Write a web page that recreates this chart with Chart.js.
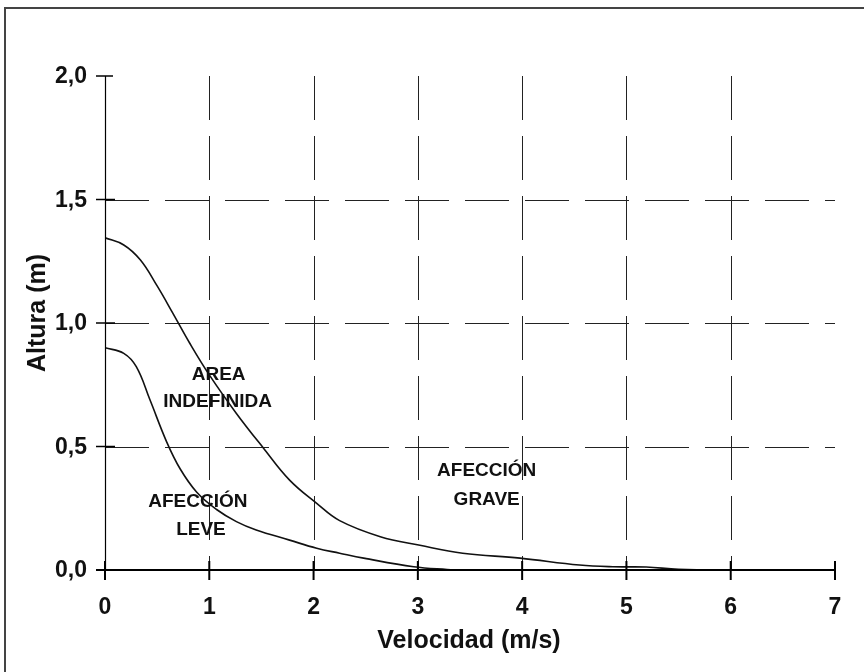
<!DOCTYPE html>
<html>
<head>
<meta charset="utf-8">
<script src="https://cdn.jsdelivr.net/npm/chart.js@4/dist/chart.umd.min.js"></script>
<style>
  body { margin: 0; background: #fff; }
  canvas { display: block; }
</style>
</head>
<body>
<canvas id="myChart" width="864" height="672"></canvas>
<script>
// curve separating "afección leve" from "área indefinida"
const leveX = [0, 0.18, 0.3, 0.43, 0.59, 0.72, 0.88, 1.07, 1.26, 1.45, 1.77, 2.03, 2.25, 2.48, 2.96, 3.28, 3.4];
const leveY = [0.9, 0.877, 0.823, 0.69, 0.52, 0.41, 0.315, 0.245, 0.196, 0.162, 0.121, 0.088, 0.068, 0.048, 0.013, 0.002, 0];

// curve separating "área indefinida" from "afección grave"
const graveX = [0, 0.18, 0.34, 0.5, 0.65, 0.81, 1.0, 1.26, 1.52, 1.77, 2.03, 2.25, 2.64, 3.02, 3.43, 3.98, 4.55, 4.87, 5.19, 5.5, 6.1];
const graveY = [1.345, 1.316, 1.255, 1.15, 1.04, 0.92, 0.79, 0.634, 0.493, 0.364, 0.27, 0.2, 0.135, 0.10, 0.068, 0.048, 0.02, 0.013, 0.012, 0.003, 0];

const xTicks = [0, 1, 2, 3, 4, 5, 6, 7];
const yTicks = [0, 0.5, 1.0, 1.5, 2.0];
const yTickLabels = ["0,0", "0,5", "1,0", "1,5", "2,0"];

const xTitle = "Velocidad (m/s)";
const yTitle = "Altura (m)";
const regionLabels = [["AREA", "INDEFINIDA"], ["AFECCIÓN", "LEVE"], ["AFECCIÓN", "GRAVE"]];

function toPoints(xs, ys) {
	let pts = [];
	for (let i = 0; i < xs.length; i++) {
		pts.push({x: xs[i], y: ys[i]});
	}
	return pts;
}

const FONT = '"Liberation Sans", Arial, sans-serif';

const drawAxes = {
	id: "drawAxes",
	beforeDatasetsDraw(chart) {
		const c = chart.ctx;
		const xs = chart.scales.x;
		const ys = chart.scales.y;
		const top = ys.getPixelForValue(2.0);
		const bottom = ys.getPixelForValue(0);
		const left = xs.getPixelForValue(0);
		const right = xs.getPixelForValue(7);
		c.save();
		c.strokeStyle = "#222";
		c.lineWidth = 1;
		c.setLineDash([44, 16]);
		// vertical dashed grid
		for (let v of xTicks) {
			if (v === 0 || v === 7) continue;
			let px = Math.round(xs.getPixelForValue(v)) + 0.5;
			c.beginPath();
			c.moveTo(px, top);
			c.lineTo(px, bottom);
			c.stroke();
		}
		// horizontal dashed grid
		for (let v of yTicks) {
			if (v === 0 || v === 2.0) continue;
			let py = Math.round(ys.getPixelForValue(v)) + 0.5;
			c.beginPath();
			c.moveTo(left, py);
			c.lineTo(right, py);
			c.stroke();
		}
		c.restore();
	},
	afterDatasetsDraw(chart) {
		const c = chart.ctx;
		const xs = chart.scales.x;
		const ys = chart.scales.y;
		const top = ys.getPixelForValue(2.0);
		const bottom = ys.getPixelForValue(0);
		const left = xs.getPixelForValue(0);
		const right = xs.getPixelForValue(7);
		c.save();
		c.setLineDash([]);
		c.strokeStyle = "#000";

		// y axis
		c.lineWidth = 1.2;
		c.beginPath();
		c.moveTo(left + 0.5, top);
		c.lineTo(left + 0.5, bottom);
		c.stroke();
		// y ticks
		c.lineWidth = 1.5;
		for (let v of yTicks) {
			let py = ys.getPixelForValue(v);
			c.beginPath();
			c.moveTo(left - 9, py);
			c.lineTo(v === 2.0 ? left + 8 : left + 10, py);
			c.stroke();
		}
		// x axis
		c.lineWidth = 2;
		c.beginPath();
		c.moveTo(left - 9, bottom);
		c.lineTo(right, bottom);
		c.stroke();
		for (let v of xTicks) {
			let px = xs.getPixelForValue(v);
			c.beginPath();
			c.moveTo(px, bottom - 9);
			c.lineTo(px, bottom + 10);
			c.stroke();
		}

		// tick labels
		c.fillStyle = "#111";
		c.font = "bold 23px " + FONT;
		c.textAlign = "right";
		c.textBaseline = "middle";
		for (let i = 0; i < yTicks.length; i++) {
			c.fillText(yTickLabels[i], left - 18, ys.getPixelForValue(yTicks[i]) + 1);
		}
		c.textAlign = "center";
		for (let v of xTicks) {
			c.fillText(String(v), xs.getPixelForValue(v), bottom + 38);
		}

		// axis titles
		c.font = "bold 25px " + FONT;
		c.fillText(xTitle, (left + right) / 2 - 1, bottom + 71);
		c.save();
		c.translate(38, 313);
		c.rotate(-Math.PI / 2);
		c.fillText(yTitle, 0, 0);
		c.restore();

		// region labels
		c.font = "bold 19px " + FONT;
		const spots = [[1.09, 0.789, 1.08, 0.68], [0.89, 0.275, 0.92, 0.162], [3.66, 0.401, 3.66, 0.283]];
		for (let i = 0; i < regionLabels.length; i++) {
			let s = spots[i];
			c.fillText(regionLabels[i][0], xs.getPixelForValue(s[0]), ys.getPixelForValue(s[1]));
			c.fillText(regionLabels[i][1], xs.getPixelForValue(s[2]), ys.getPixelForValue(s[3]));
		}

		// outer frame
		c.strokeStyle = "#444";
		c.lineWidth = 2;
		c.beginPath();
		c.moveTo(5, chart.height);
		c.lineTo(5, 8);
		c.lineTo(chart.width, 8);
		c.stroke();
		c.restore();
	}
};

const ctx = document.getElementById("myChart");

const myChart = new Chart(ctx, {
	type: "scatter",
	data: {
		datasets: [
			{
				label: "leve",
				data: toPoints(leveX, leveY),
				showLine: true,
				borderColor: "#111",
				borderWidth: 1.6,
				pointRadius: 0,
				tension: 0.4,
				fill: false
			},
			{
				label: "grave",
				data: toPoints(graveX, graveY),
				showLine: true,
				borderColor: "#111",
				borderWidth: 1.6,
				pointRadius: 0,
				tension: 0.4,
				fill: false
			}
		]
	},
	options: {
		responsive: false,
		animation: false,
		layout: {
			padding: {left: 105, top: 76, right: 29, bottom: 102}
		},
		plugins: {
			legend: {display: false},
			tooltip: {enabled: false}
		},
		scales: {
			x: {type: "linear", min: 0, max: 7, display: false},
			y: {type: "linear", min: 0, max: 2, display: false}
		}
	},
	plugins: [drawAxes]
});
</script>
</body>
</html>
